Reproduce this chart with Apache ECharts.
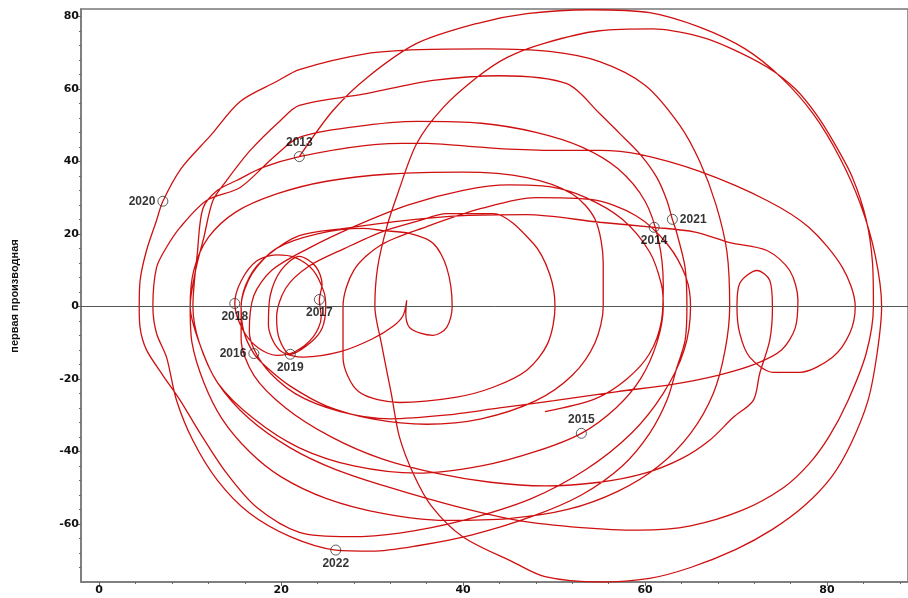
<!DOCTYPE html>
<html>
<head>
<meta charset="utf-8">
<script src="https://cdn.jsdelivr.net/npm/echarts@6/dist/echarts.min.js"></script>
<style>
  html, body { margin: 0; padding: 0; background: #fff; }
  #chart { width: 908px; height: 598px; }
</style>
</head>
<body>
<div id="chart"></div>
<script>
// Phase trajectory: [value, first derivative], one segment per year,
// each segment starting at that year's marker.
const path2013 = [
  [22,41.3],[25.7,54],[29.4,63],[34.9,72.5],[41.5,78],[47,80.7],[54,81.8],[60.5,81],[66,77],[71,71],
  [75,63],[78.5,53],[81.4,41],[83.7,28],[85.3,14],[86,0],[85.5,-13],[84.5,-26],[82.6,-38],[80.5,-47],
  [77.5,-55],[74,-61.5],[70,-67],[65,-72],[60.5,-75],[55,-76],[49,-74.5],[45.5,-70.5],[40,-63.6],
  [36.5,-55],[34.5,-46],[33,-36],[32.1,-24],[31,-10],[30.3,0],[30.6,10.7],[31.6,21.8],[32.8,31],
  [34.9,44.9],[37.8,54.8],[41.5,63.1],[44.8,68.6],[49,72.6],[55,76],[60.9,76.5],[66,74.4],[69.3,71.3],
  [73.4,66],[76.5,60],[78.8,53],[80.8,45],[82.8,35.5],[84.3,24],[85,12],[85.1,0],[84.3,-13],[82.3,-26],
  [80.2,-36],[78,-43.5],[75.2,-50],[70.7,-56.2],[65,-60.5],[59.4,-61.7],[53,-61],[46,-59],[39,-55],
  [32,-50],[26,-45],[21,-39],[16.5,-31],[13,-21],[11,-10],[10.3,0],[10.8,15],[11.4,27],[13,32],
  [15.1,34.7],[18,38.3],[22,41.3],[29.4,44.4],[34.9,45],[40.4,44.2],[44,43.5],[50,43],[55,43],[59.4,41.9],
  [66,37.2],[73.4,29.2],[78,21.8],[81.7,10.7],[83.1,0],[82.5,-7.4],[80.6,-14],[77,-18.2],[74.1,-18.2],
  [71.5,-14],[70.4,-7.4],[70.1,0],[70.4,6.3],[72.3,9.9],[73.7,7.2],[74,-0.3],[73.7,-9.4],[72.6,-18.5],
  [71.9,-25.9],[69.7,-30.6],[67.1,-36.9],[64,-42],[60,-46],[55,-48.5],[49,-49.5],[43,-48.5],[37,-46],
  [31,-42],[25.5,-36],[20.5,-28],[17,-19],[15.6,-9],[15.6,0],[16.5,8],[18.5,14],[22,19.5],[27,21.5],
  [33,23.5],[40,25],[47,25.3],[55,23.2],[61,21.8]
];
const path2014 = [
  [61,21.8],[65.5,20.5],[69.3,17.6],[73.4,15.4],[75.9,9.9],[76.8,1.7],[76.5,-6],[75,-12],[72,-16],
  [68,-19],[63,-21.5],[57,-23.5],[50,-26],[44,-28],[38,-30],[32,-31],[26.5,-29],[21.5,-24],[18,-16],
  [16.5,-7],[17,3],[19,10],[23,16],[28,22],[34,28],[40,32],[45,33.5],[49.5,33],[53.5,30],[57.5,24],
  [60.5,15],[61.8,6],[62,0],[61.3,-10],[59.5,-20],[56.8,-28],[53,-35]
];
const path2015 = [
  [53,-35],[48,-40],[42,-44],[35,-46],[28,-44],[22,-39],[17,-31],[13,-21],[11,-10],[10,0],[10.4,10],
  [12,19],[15,26],[19.5,31],[25,34.5],[32,36.5],[40,37],[47,35.5],[52,31],[54.5,24],[55.4,12],
  [55.4,0],[54.5,-10],[52,-19],[48,-26],[42,-31],[36,-32.5],[30,-31],[25,-27.5],[21,-22],[18.5,-17],
  [17,-13]
];
const path2016 = [
  [17,-13],[15.9,-7],[15.6,0],[16.8,9],[19.5,16],[24,20],[29,21.5],[31.2,20.9],[34.1,20.1],[36.7,17.4],
  [38.2,10.7],[38.8,0],[38.2,-5.8],[36.7,-8],[35.3,-7.4],[34.1,-5.8],[33.7,-2],[33.8,1.7],[33.4,-2.5],
  [32.3,-5.5],[30,-9],[26.5,-12.5],[22.5,-14],[19.8,-12],[18.6,-5],[18.8,3],[20,10],[22,13.8],
  [23.8,11],[24.5,6],[24.2,1.9]
];
const path2017 = [
  [24.2,1.9],[24.4,-3],[23.5,-8.5],[21.5,-12.5],[19.5,-13.5],[17.5,-11.5],[15.8,-6.5],[14.9,0.8]
];
const path2018 = [
  [14.9,0.8],[15.6,7],[17.3,12.5],[19.5,14.2],[21.5,13.5],[23.5,10],[24.7,4],[24.9,0],[24.5,-6],
  [23.2,-10],[21,-13.2]
];
const path2019 = [
  [21,-13.2],[19.8,-9],[19.5,-3],[20.5,5],[23,11],[27,16],[31,20.5],[35,23.5],[38.2,25.6],[43.3,25.6],
  [47.7,17.4],[49.5,9],[50.1,0],[49.3,-10.2],[47,-17.6],[43.3,-22.3],[39.3,-25],[33,-26.5],[28.5,-23.5],
  [26.8,-14],[26.8,0],[28,10],[31,17],[36,22],[42,27],[48,30],[54,29.5],[59,25],[62.5,17],[64.5,8],
  [65,0],[64.3,-12],[62,-24],[58.5,-35],[53.5,-45],[47.5,-53],[40,-59],[33,-62.5],[27.5,-63.5],
  [22,-62.3],[17.3,-55.4],[14,-46],[11.1,-35],[8.9,-25.9],[7,-19],[5.2,-12],[4.5,-6],[4.4,0],
  [4.5,7.2],[5.2,15.4],[6.3,23.7],[7,29]
];
const path2020 = [
  [7,29],[9,38],[12.2,47],[15.5,56.5],[19.5,62],[22,65.3],[29.4,69.7],[35.2,70.8],[42.6,71],
  [49.5,70.3],[55,67.5],[60,61],[63.8,50],[66,40],[67.8,28],[69,15],[69.3,0],[68.8,-12],[67.5,-24],
  [65,-35],[61.5,-44],[57,-51],[51.5,-56],[45,-58.5],[38,-59],[31,-57],[25,-53],[20,-47],[16.5,-40],
  [13.5,-31],[11.5,-21],[10.2,-10],[10,0],[10.6,10],[11.5,19],[12.5,29.2],[14,34.7],[16.6,43],
  [19.9,51.2],[22,55.4],[29,58.5],[36.7,62.3],[44,63.6],[51.4,61.4],[55,53.2],[57.2,47.7],[59.4,42.1],
  [61.3,35.5],[62.4,29.2],[63,24]
];
const path2021 = [
  [63,24],[63.5,20.1],[64.4,10.7],[64.6,0],[64.4,-9.4],[63.5,-16.8],[62.4,-25.9],[60.5,-35],[57.5,-44],
  [53,-52],[47.5,-58],[41,-63],[35,-66],[30,-67.5],[26,-67.2]
];
const path2022 = [
  [26,-67.2],[21,-63.5],[16.5,-57],[13,-48],[10.3,-37],[8.5,-25.9],[7.4,-14],[6.3,-7.4],[5.9,0],
  [6.3,10.7],[7.4,16.3],[8.9,21.8],[11.8,29.2],[15.5,32.8],[19.1,41],[22,46.6],[28,49.5],[35,51],
  [42,50.5],[48,48],[53,44],[57,38],[60,29],[61.5,18],[62,6],[61.8,-4],[60.5,-13],[58,-20],
  [54.5,-25.5],[49,-29]
];

// Year markers
const markerYears = ['2013','2014','2015','2016','2017','2018','2019','2020','2021','2022'];
const markerX = [22, 61, 53, 17, 24.2, 14.9, 21, 7, 63, 26];
const markerY = [41.3, 21.8, -35, -13, 1.9, 0.8, -13.2, 29, 24, -67.2];

// Axis ticks
const xMajorTicks = [0, 20, 40, 60, 80];
const yMajorTicks = [-60, -40, -20, 0, 20, 40, 60, 80];

const segments = [path2013, path2014, path2015, path2016, path2017, path2018,
                  path2019, path2020, path2021, path2022];
const trajectory = [];
segments.forEach((seg, i) => {
  seg.forEach((p, j) => { if (i === 0 || j > 0) trajectory.push(p); });
});

const xMinorTicks = [];
for (let v = 0; v <= 88; v += 4) xMinorTicks.push(v);
const yMinorTicks = [];
for (let v = -72; v <= 80; v += 4) yMinorTicks.push(v);

const labelPlacement = {
  '2013': 'top', '2014': 'bottom', '2015': 'top', '2016': 'left', '2017': 'bottom',
  '2018': 'bottom', '2019': 'bottom', '2020': 'left', '2021': 'right', '2022': 'bottom'
};

const markerData = markerYears.map((yr, i) => ({
  value: [markerX[i], markerY[i]],
  name: yr,
  label: { position: labelPlacement[yr] }
}));

const X_MIN = -2, X_MAX = 88.9, Y_MIN = -76, Y_MAX = 82;
const tickFont = { color: '#111', fontFamily: 'DejaVu Sans', fontWeight: 'bold', fontSize: 11 };

const chart = echarts.init(document.getElementById('chart'), null, { renderer: 'canvas' });
chart.setOption({
  animation: false,
  backgroundColor: '#fff',
  grid: { left: 81, right: 0, top: 9, bottom: 16, show: true, borderColor: '#777', borderWidth: 1.5 },
  xAxis: [
    {
      type: 'value', min: X_MIN, max: X_MAX, position: 'bottom',
      axisLine: { show: true, onZero: false, lineStyle: { color: '#777', width: 1.5 } },
      axisTick: { show: true, length: 4, customValues: xMajorTicks, lineStyle: { color: '#666' } },
      axisLabel: Object.assign({ customValues: xMajorTicks, margin: 3 }, tickFont),
      splitLine: { show: false }
    },
    {
      type: 'value', min: X_MIN, max: X_MAX, position: 'bottom', offset: 0,
      axisLine: { show: false, onZero: false },
      axisTick: { show: true, length: 2, customValues: xMinorTicks, lineStyle: { color: '#666' } },
      axisLabel: { show: false },
      splitLine: { show: false }
    }
  ],
  yAxis: [
    {
      type: 'value', min: Y_MIN, max: Y_MAX, position: 'left',
      axisLine: { show: true, onZero: false, lineStyle: { color: '#777', width: 1.5 } },
      axisTick: { show: true, length: 4, customValues: yMajorTicks, lineStyle: { color: '#666' } },
      axisLabel: Object.assign({ customValues: yMajorTicks, margin: 2 }, tickFont),
      splitLine: { show: false }
    },
    {
      type: 'value', min: Y_MIN, max: Y_MAX, position: 'left', offset: 0,
      axisLine: { show: false, onZero: false },
      axisTick: { show: true, length: 2, customValues: yMinorTicks, lineStyle: { color: '#666' } },
      axisLabel: { show: false },
      splitLine: { show: false }
    }
  ],
  graphic: [{
    type: 'text',
    x: 15, y: 296,
    rotation: Math.PI / 2,
    style: {
      text: 'первая производная',
      fill: '#111',
      font: 'bold 11px "Liberation Sans"',
      align: 'center', verticalAlign: 'middle',
      textAlign: 'center', textVerticalAlign: 'middle'
    }
  }],
  series: [
    {
      type: 'line',
      xAxisIndex: 0, yAxisIndex: 0,
      data: trajectory,
      showSymbol: false,
      symbol: 'none',
      smooth: 0.3,
      clip: true,
      lineStyle: { color: '#cf1010', width: 1.3 },
      z: 3,
      markLine: {
        silent: true,
        symbol: ['none', 'none'],
        label: { show: false },
        lineStyle: { color: '#555', width: 1, type: 'solid' },
        data: [{ yAxis: 0 }]
      }
    },
    {
      type: 'scatter',
      xAxisIndex: 0, yAxisIndex: 0,
      data: markerData,
      symbol: 'circle',
      symbolSize: 10,
      itemStyle: { color: 'rgba(255,255,255,0)', borderColor: '#333', borderWidth: 1 },
      label: {
        show: true,
        formatter: p => p.name,
        distance: 2,
        color: '#000',
        fontFamily: 'Liberation Sans',
        fontWeight: 'bold',
        fontSize: 12
      },
      z: 4
    }
  ]
});
</script>
</body>
</html>
